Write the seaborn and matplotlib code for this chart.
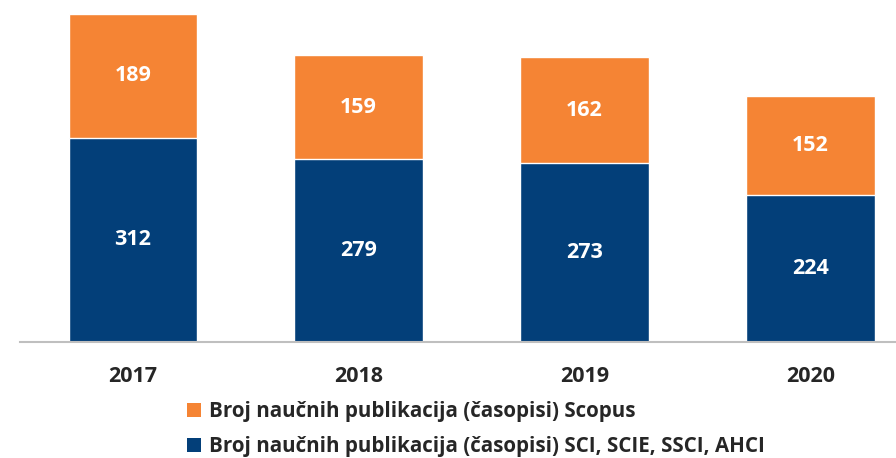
import seaborn as sns
import matplotlib.pyplot as plt
import pandas as pd
from matplotlib.patches import Patch

years = ["2017", "2018", "2019", "2020"]
sci = [312, 279, 273, 224]
scopus = [189, 159, 162, 152]
label_scopus = "Broj naučnih publikacija (časopisi) Scopus"
label_sci = "Broj naučnih publikacija (časopisi) SCI, SCIE, SSCI, AHCI"

orange = "#F58434"
blue = "#033F79"
text_col = "#262626"

df = pd.DataFrame({"year": years, "sci": sci, "scopus": scopus})
df["total"] = df["sci"] + df["scopus"]

sns.set_style("white")
plt.rcParams['font.family'] = ['Open Sans', 'DejaVu Sans']

fig = plt.figure(figsize=(8.96, 4.58), dpi=100)
ax = fig.add_axes([20 / 896, 116 / 458, 876 / 896, 342 / 458])

# total bar in orange, then the SCI part drawn over it
sns.barplot(data=df, x="year", y="total", color=orange, width=0.57,
            saturation=1, ax=ax)
sns.barplot(data=df, x="year", y="sci", color=blue, width=0.57,
            saturation=1, ax=ax)

for i, row in df.iterrows():
    ax.text(i, row["sci"] / 2, str(row["sci"]), ha="center", va="center",
            color="white", fontsize=15.5, fontweight="bold")
    ax.text(i, row["sci"] + row["scopus"] / 2, str(row["scopus"]),
            ha="center", va="center", color="white", fontsize=15.5,
            fontweight="bold")

ax.set_xlim(-0.5, 3.38)
ax.set_ylim(0, 522)
ax.set_xlabel("")
ax.set_ylabel("")
ax.set_yticks([])
ax.tick_params(axis="x", length=0, pad=17, labelsize=15.5, colors=text_col)
for t in ax.get_xticklabels():
    t.set_fontweight("bold")
for s in ["top", "right", "left"]:
    ax.spines[s].set_visible(False)
ax.spines["bottom"].set_color("#BFBFBF")
ax.spines["bottom"].set_linewidth(1.5)

handles = [Patch(facecolor=orange, edgecolor="none", label=label_scopus),
           Patch(facecolor=blue, edgecolor="none", label=label_sci)]
fig.legend(handles=handles, loc="upper left",
           bbox_to_anchor=(187 / 896, 1 - 401 / 458),
           frameon=False, handlelength=0.7, handleheight=0.7, handletextpad=0.35,
           labelspacing=0.68, borderaxespad=0, borderpad=0,
           prop={"size": 14.8, "weight": "bold"}, labelcolor=text_col)

fig.savefig("out.png", dpi=100)
